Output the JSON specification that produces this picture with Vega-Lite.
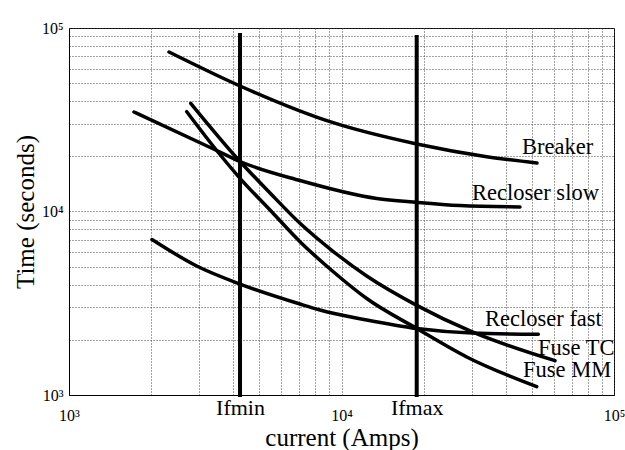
{
  "$schema": "https://vega.github.io/schema/vega-lite/v6.json",
  "width": 545,
  "height": 367,
  "autosize": "none",
  "padding": {"left": 69, "top": 28, "right": 11, "bottom": 55},
  "background": "white",
  "config": {"view": {"stroke": "#000", "strokeWidth": 1}, "font": "Liberation Serif"},
  "datasets": {
    "curves": [
      {"series": "Breaker", "current": 2328, "time": 73990},
      {"series": "Breaker", "current": 4242, "time": 48300},
      {"series": "Breaker", "current": 9075, "time": 30860},
      {"series": "Breaker", "current": 18880, "time": 23330},
      {"series": "Breaker", "current": 34110, "time": 19890},
      {"series": "Breaker", "current": 52170, "time": 18380},
      {"series": "Recloser slow", "current": 1732, "time": 34850},
      {"series": "Recloser slow", "current": 3483, "time": 21500},
      {"series": "Recloser slow", "current": 4242, "time": 18730},
      {"series": "Recloser slow", "current": 7041, "time": 14750},
      {"series": "Recloser slow", "current": 13470, "time": 11770},
      {"series": "Recloser slow", "current": 18880, "time": 11220},
      {"series": "Recloser slow", "current": 27220, "time": 10780},
      {"series": "Recloser slow", "current": 45190, "time": 10580},
      {"series": "Recloser fast", "current": 2016, "time": 7038},
      {"series": "Recloser fast", "current": 2942, "time": 5047},
      {"series": "Recloser fast", "current": 4242, "time": 4025},
      {"series": "Recloser fast", "current": 7041, "time": 3133},
      {"series": "Recloser fast", "current": 8337, "time": 2906},
      {"series": "Recloser fast", "current": 12375, "time": 2563},
      {"series": "Recloser fast", "current": 18880, "time": 2304},
      {"series": "Recloser fast", "current": 30060, "time": 2177},
      {"series": "Recloser fast", "current": 52760, "time": 2142},
      {"series": "Fuse TC", "current": 2797, "time": 38870},
      {"series": "Fuse TC", "current": 4242, "time": 18730},
      {"series": "Fuse TC", "current": 5466, "time": 12620},
      {"series": "Fuse TC", "current": 7041, "time": 8626},
      {"series": "Fuse TC", "current": 9331, "time": 6053},
      {"series": "Fuse TC", "current": 12375, "time": 4451},
      {"series": "Fuse TC", "current": 18880, "time": 3080},
      {"series": "Fuse TC", "current": 30060, "time": 2213},
      {"series": "Fuse TC", "current": 60740, "time": 1538},
      {"series": "Fuse MM", "current": 2704, "time": 34990},
      {"series": "Fuse MM", "current": 3483, "time": 21500},
      {"series": "Fuse MM", "current": 4242, "time": 15170},
      {"series": "Fuse MM", "current": 5466, "time": 10190},
      {"series": "Fuse MM", "current": 7041, "time": 6845},
      {"series": "Fuse MM", "current": 9331, "time": 4697},
      {"series": "Fuse MM", "current": 12375, "time": 3357},
      {"series": "Fuse MM", "current": 18880, "time": 2304},
      {"series": "Fuse MM", "current": 28810, "time": 1611},
      {"series": "Fuse MM", "current": 52040, "time": 1110}
    ],
    "ifs": [
      {"name": "Ifmin", "current": 4242, "time": 975, "time2": 93930},
      {"name": "Ifmax", "current": 18880, "time": 975, "time2": 91600}
    ],
    "labels": [
      {"label": "Breaker", "current": 45960, "time": 20580},
      {"label": "Recloser slow", "current": 30130, "time": 11550},
      {"label": "Recloser fast", "current": 33630, "time": 2377},
      {"label": "Fuse TC", "current": 52620, "time": 1652},
      {"label": "Fuse MM", "current": 46360, "time": 1253}
    ]
  },
  "encoding": {
    "x": {
      "field": "current",
      "type": "quantitative",
      "scale": {"type": "log", "domain": [1000, 100000], "nice": false},
      "axis": {
        "title": "current (Amps)",
        "values": [1000, 2000, 3000, 4000, 4242, 5000, 6000, 7000, 8000, 9000, 10000, 18880, 20000, 30000, 40000, 50000, 60000, 70000, 80000, 90000, 100000],
        "labelExpr": "datum.value == 1000 ? '10³' : datum.value == 10000 ? '10⁴' : datum.value == 100000 ? '10⁵' : datum.value == 4242 ? 'Ifmin' : datum.value == 18880 ? 'Ifmax' : ''",
        "labelFont": "Liberation Serif",
        "labelFontSize": {"condition": {"test": "datum.value == 4242 || datum.value == 18880", "value": 22}, "value": 16},
        "labelPadding": {"condition": {"test": "datum.value == 4242 || datum.value == 18880", "value": 2}, "value": 12},
        "labelBaseline": "top",
        "labelColor": "#000",
        "labelOverlap": false,
        "labelFlush": false,
        "ticks": false,
        "tickSize": 0,
        "domainColor": "#000",
        "grid": true,
        "gridColor": "#444",
        "gridDash": [1, 2],
        "gridWidth": 1,
        "gridOpacity": {"condition": {"test": "datum.value == 4242 || datum.value == 18880", "value": 0}, "value": 1},
        "titleFont": "Liberation Serif",
        "titleFontSize": 25,
        "titleFontWeight": "normal",
        "titleColor": "#000",
        "titleY": 42,
        "titleBaseline": "middle"
      }
    },
    "y": {
      "field": "time",
      "type": "quantitative",
      "scale": {"type": "log", "domain": [1000, 100000], "nice": false},
      "axis": {
        "title": "Time (seconds)",
        "values": [1000, 2000, 3000, 4000, 5000, 6000, 7000, 8000, 9000, 10000, 20000, 30000, 40000, 50000, 60000, 70000, 80000, 90000, 100000],
        "labelExpr": "datum.value == 1000 ? '10³' : datum.value == 10000 ? '10⁴' : datum.value == 100000 ? '10⁵' : ''",
        "labelFont": "Liberation Serif",
        "labelFontSize": 16,
        "labelPadding": 6,
        "labelColor": "#000",
        "labelOverlap": false,
        "labelFlush": false,
        "ticks": false,
        "tickSize": 0,
        "domainColor": "#000",
        "grid": true,
        "gridColor": "#444",
        "gridDash": [1, 2],
        "gridWidth": 1,
        "titleFont": "Liberation Serif",
        "titleFontSize": 25,
        "titleFontWeight": "normal",
        "titleColor": "#000",
        "titleX": -44,
        "titleY": 183.5,
        "titleAngle": -90,
        "titleAlign": "center",
        "titleBaseline": "middle"
      }
    }
  },
  "layer": [
    {
      "data": {"name": "curves"},
      "mark": {"type": "line", "color": "#000", "strokeWidth": 3.5, "interpolate": "monotone", "strokeCap": "round"},
      "encoding": {"detail": {"field": "series", "type": "nominal"}}
    },
    {
      "data": {"name": "ifs"},
      "mark": {"type": "rule", "color": "#000", "strokeWidth": 4},
      "encoding": {"y2": {"field": "time2"}}
    },
    {
      "data": {"name": "labels"},
      "mark": {"type": "text", "align": "left", "baseline": "alphabetic", "font": "Liberation Serif", "fontSize": 22.5, "color": "#000"},
      "encoding": {"text": {"field": "label", "type": "nominal"}}
    }
  ]
}
